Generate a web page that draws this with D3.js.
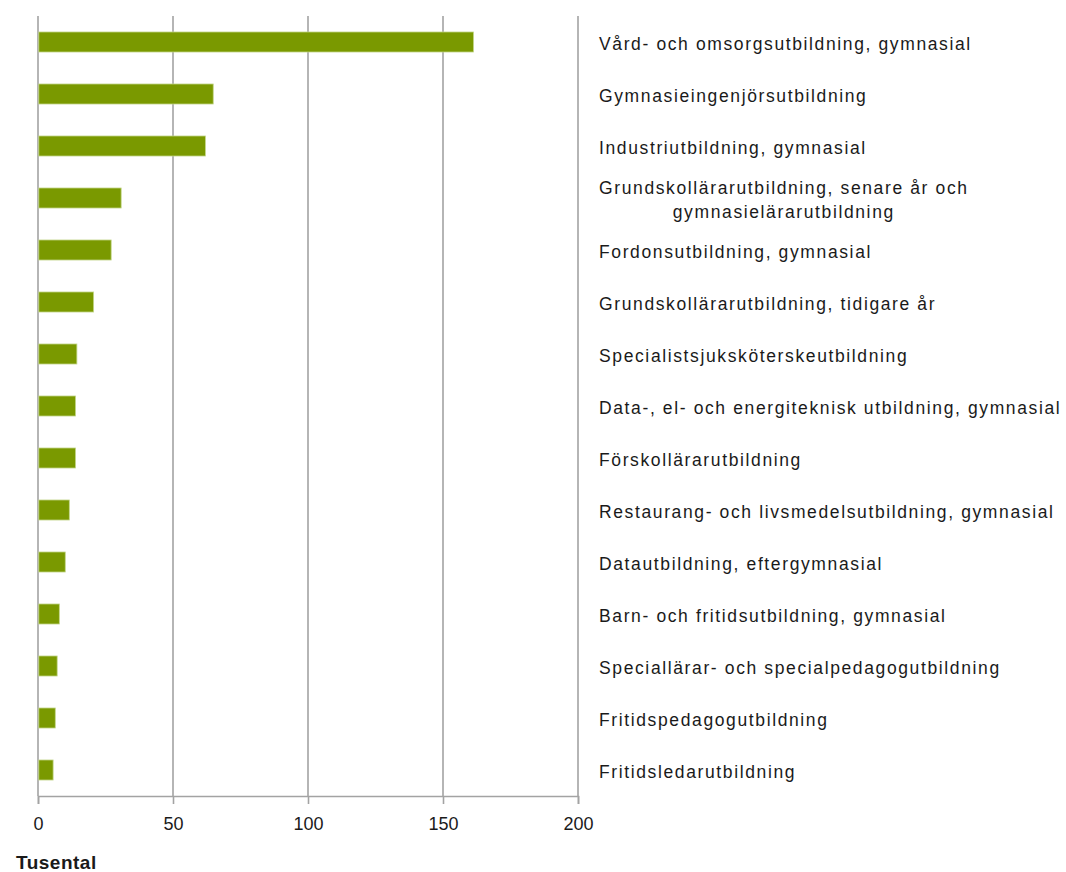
<!DOCTYPE html>
<html>
<head>
<meta charset="utf-8">
<script src="https://cdn.jsdelivr.net/npm/d3@7"></script>
<style>
  html, body { margin: 0; padding: 0; background: #fff; }
  svg { display: block; }
  text { font-family: "Liberation Sans", Arial, sans-serif; fill: #1a1a1a; }
</style>
</head>
<body>
<svg id="chart" width="1066" height="872"></svg>
<script>
const categories = [
  ["Vård- och omsorgsutbildning, gymnasial"],
  ["Gymnasieingenjörsutbildning"],
  ["Industriutbildning, gymnasial"],
  ["Grundskollärarutbildning, senare år och", "gymnasielärarutbildning"],
  ["Fordonsutbildning, gymnasial"],
  ["Grundskollärarutbildning, tidigare år"],
  ["Specialistsjuksköterskeutbildning"],
  ["Data-, el- och energiteknisk utbildning, gymnasial"],
  ["Förskollärarutbildning"],
  ["Restaurang- och livsmedelsutbildning, gymnasial"],
  ["Datautbildning, eftergymnasial"],
  ["Barn- och fritidsutbildning, gymnasial"],
  ["Speciallärar- och specialpedagogutbildning"],
  ["Fritidspedagogutbildning"],
  ["Fritidsledarutbildning"]
];
const values = [161.3, 64.9, 62.0, 30.8, 27.1, 20.6, 14.4, 13.9, 13.9, 11.6, 10.1, 7.9, 7.1, 6.4, 5.6];
const tickValues = [0, 50, 100, 150, 200];
const axisTitle = "Tusental";

const svg = d3.select("#chart");
const mLeft = 38, mRight = 578, mTop = 16, mBottom = 796;

const x = d3.scaleLinear().domain([0, 200]).range([mLeft, mRight]);
const y = d3.scaleBand().domain(d3.range(categories.length)).range([mTop, mBottom]).paddingInner(0.615).paddingOuter(0.3075);

const gridColor = "#a3a3a3";

// gridlines
svg.append("g").selectAll("line").data(tickValues).join("line")
  .attr("x1", d => x(d)).attr("x2", d => x(d))
  .attr("y1", mTop).attr("y2", mBottom)
  .attr("stroke", gridColor).attr("stroke-width", 1.6);

// bars
svg.append("g").selectAll("rect").data(values).join("rect")
  .attr("x", x(0) + 0.8)
  .attr("y", (d, i) => y(i))
  .attr("width", d => x(d) - x(0) - 0.8)
  .attr("height", y.bandwidth())
  .attr("fill", "#7a9900")
  .attr("stroke", "#c3d68a")
  .attr("stroke-width", 0.8);

// bottom axis
const xAxis = d3.axisBottom(x).tickValues(tickValues).tickSize(8).tickFormat(d3.format("d"));
const gx = svg.append("g").attr("transform", `translate(0,${mBottom})`).call(xAxis);
gx.select(".domain").attr("stroke", gridColor).attr("stroke-width", 1.6);
gx.selectAll(".tick line").attr("stroke", gridColor).attr("stroke-width", 1.6);
gx.selectAll(".tick text").attr("y", 34).attr("dy", null)
  .style("font-size", "18px").attr("fill", "#1a1a1a")
  .style("font-family", "'Liberation Sans', Arial, sans-serif");

// labels
const labelX = 599;
const ls = "1.62px";
const lg = svg.append("g");
categories.forEach((lines, i) => {
  const cy = y(i) + y.bandwidth() / 2;
  if (lines.length === 1) {
    lg.append("text").attr("x", labelX).attr("y", cy + 7.5)
      .style("font-size", "17.5px").style("letter-spacing", ls).text(lines[0]);
  } else {
    const t0 = lg.append("text").attr("x", labelX).attr("y", cy - 12 + 7.5)
      .style("font-size", "17.5px").style("letter-spacing", ls).text(lines[0]);
    const w = t0.node().getComputedTextLength();
    lg.append("text").attr("x", labelX + w / 2).attr("y", cy + 12 + 7.5)
      .attr("text-anchor", "middle")
      .style("font-size", "17.5px").style("letter-spacing", ls).text(lines[1]);
  }
});

// axis title
svg.append("text").attr("x", 16).attr("y", 869)
  .style("font-size", "19px").style("font-weight", "bold").style("letter-spacing", "0.5px").text(axisTitle);
</script>
</body>
</html>
